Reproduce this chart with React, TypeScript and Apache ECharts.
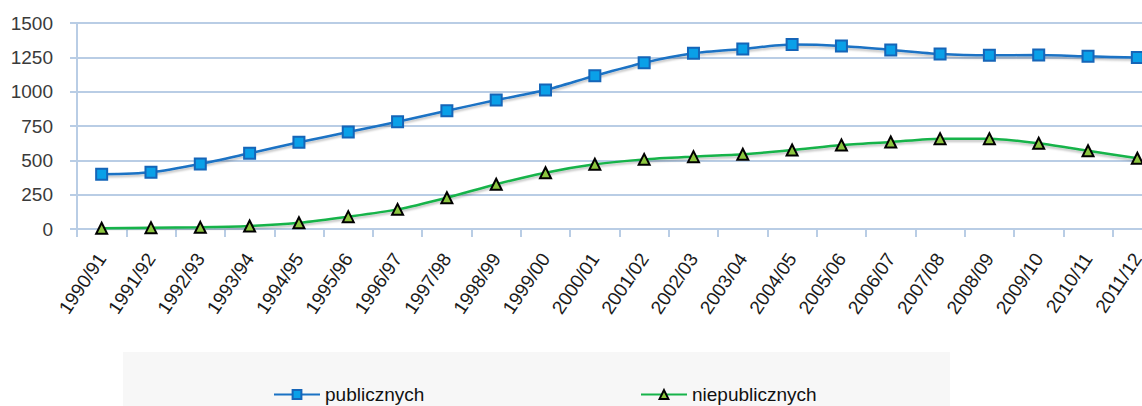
import React, { useEffect, useRef } from "react";
import * as echarts from "echarts";

const categories = [
  "1990/91", "1991/92", "1992/93", "1993/94", "1994/95", "1995/96", "1996/97",
  "1997/98", "1998/99", "1999/00", "2000/01", "2001/02", "2002/03", "2003/04",
  "2004/05", "2005/06", "2006/07", "2007/08", "2008/09", "2009/10", "2010/11", "2011/12",
];
const publicznych = [
  398, 413, 473, 551, 631, 706, 781, 861, 939, 1012, 1116, 1211, 1279, 1311,
  1343, 1333, 1304, 1274, 1265, 1267, 1257, 1248,
];
const niepublicznych = [
  5, 10, 12, 22, 46, 90, 143, 228, 326, 410, 471, 507, 527, 544,
  575, 612, 634, 658, 658, 624, 570, 515,
];
const yTicks = { min: 0, max: 1500, interval: 250 };

const FONT = "'Liberation Sans Narrow', 'Arial Narrow', 'Liberation Sans', Arial, sans-serif";
const GRID_COLOR = "#b9cde5";

export default function App() {
  const ref = useRef<HTMLDivElement>(null);
  useEffect(() => {
    if (!ref.current) return;
    const chart = echarts.init(ref.current, undefined, { renderer: "svg" });
    chart.setOption({
      animation: false,
      backgroundColor: "#ffffff",
      textStyle: { fontFamily: FONT },
      graphic: [
        {
          type: "rect",
          left: 123,
          top: 352,
          shape: { width: 827, height: 60 },
          style: { fill: "#f7f7f7" },
          z: -10,
        },
      ],
      grid: { left: 77, width: 1085, top: 23, height: 206, containLabel: false },
      legend: [
        {
          data: ["publicznych"],
          left: 268,
          top: 380,
          itemWidth: 46,
          itemHeight: 11,
          textStyle: { fontFamily: FONT, fontSize: 19, color: "#111" },
        },
        {
          data: ["niepublicznych"],
          left: 635,
          top: 380,
          itemWidth: 46,
          itemHeight: 11,
          textStyle: { fontFamily: FONT, fontSize: 19, color: "#111" },
        },
      ],
      xAxis: {
        type: "category",
        data: categories,
        boundaryGap: true,
        axisLine: { show: true, lineStyle: { color: GRID_COLOR, width: 2 } },
        axisTick: { show: true, interval: 0, length: 8, lineStyle: { color: GRID_COLOR, width: 2 } },
        axisLabel: {
          interval: 0,
          rotate: 56,
          margin: 26,
          fontFamily: FONT,
          fontSize: 19,
          color: "#1a1a1a",
        },
        splitLine: { show: false },
      },
      yAxis: {
        type: "value",
        min: yTicks.min,
        max: yTicks.max,
        interval: yTicks.interval,
        axisLine: { show: true, lineStyle: { color: GRID_COLOR, width: 2 } },
        axisTick: { show: true, length: 7, lineStyle: { color: GRID_COLOR, width: 2 } },
        axisLabel: {
          fontFamily: FONT,
          fontSize: 19,
          color: "#3a3a3a",
          margin: 24,
          formatter: (v: number) => String(v),
        },
        splitLine: { show: true, lineStyle: { color: GRID_COLOR, width: 2 } },
      },
      series: [
        {
          name: "publicznych",
          type: "line",
          data: publicznych,
          smooth: 0.25,
          symbol: "rect",
          symbolSize: 11,
          lineStyle: {
            color: "#1a72c4",
            width: 2.5,
            shadowColor: "rgba(0,0,0,0.25)",
            shadowBlur: 2,
            shadowOffsetY: 2,
          },
          itemStyle: { color: "#0aa0e8", borderColor: "#1565b8", borderWidth: 2 },
          z: 3,
        },
        {
          name: "niepublicznych",
          type: "line",
          data: niepublicznych,
          smooth: 0.25,
          symbol: "triangle",
          symbolSize: 11,
          lineStyle: {
            color: "#16b34a",
            width: 2.5,
            shadowColor: "rgba(0,0,0,0.25)",
            shadowBlur: 2,
            shadowOffsetY: 2,
          },
          itemStyle: { color: "#8cc63f", borderColor: "#000000", borderWidth: 2 },
          z: 3,
        },
      ],
    });
    return () => chart.dispose();
  }, []);
  return (
    <div style={{ position: "fixed", left: 0, top: 0, width: 1142, height: 406, overflow: "hidden" }}>
      <div ref={ref} style={{ width: 1170, height: 406 }} />
    </div>
  );
}
